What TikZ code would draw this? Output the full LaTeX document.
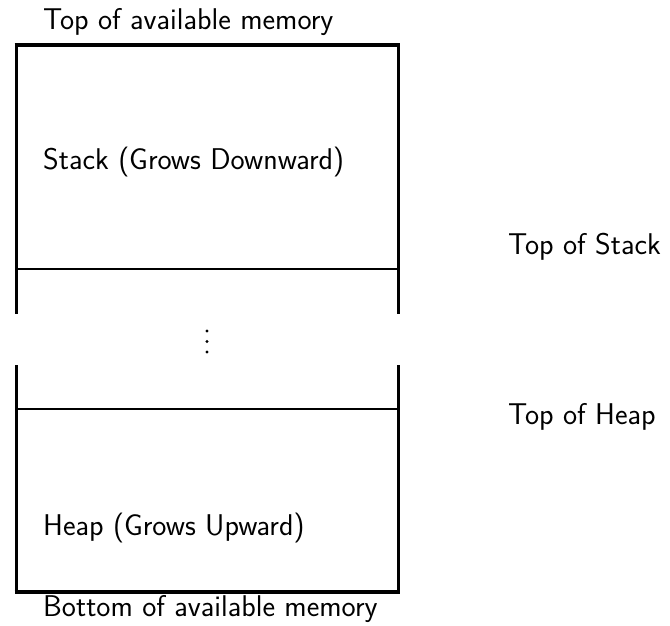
\documentclass[tikz,border=0pt]{standalone}
\usepackage{tikz}
\usetikzlibrary{calc,positioning}

\tikzset{
  lbl/.style={anchor=base west,inner sep=0pt,font=\fontsize{30}{36}\selectfont\sffamily},
  wall/.style={line width=3pt},
  divider/.style={line width=2.8pt},
  lid/.style={line width=4pt}
}

\begin{document}
\begin{tikzpicture}[x=1pt,y=-1pt]
		\useasboundingbox (0,0) rectangle (670,625);
		\begin{scope}
			% corners of the memory column
			\coordinate (tl) at (16,45);
			\coordinate (tr) at (398,45);
			\coordinate (sl) at (16,269);
			\coordinate (sr) at (398,269);
			\coordinate (gl1) at (16,314);
			\coordinate (gr1) at (398,314);
			\coordinate (gl2) at (16,365);
			\coordinate (gr2) at (398,365);
			\coordinate (hl) at (16,409);
			\coordinate (hr) at (398,409);
			\coordinate (bl) at (16,592);
			\coordinate (br) at (398,592);

			\draw[wall] (tl) -- (gl1) (tr) -- (gr1);
			\draw[wall] (gl2) -- (bl) (gr2) -- (br);
			\draw[lid] ($(tl)+(-1.5,0)$) -- ($(tr)+(1.5,0)$);
			\draw[lid] ($(bl)+(-1.5,0)$) -- ($(br)+(1.5,0)$);
			\draw[divider] (sl) -- (sr);
			\draw[divider] (hl) -- (hr);

			\foreach \y in {331,341.5,352}
				\fill (207,\y) circle (1.6);

			\node(topmem) [lbl] at (43,29) {Top of available memory};
			\node(stack) [lbl] at (43,169) {Stack (Grows Downward)};
			\node(heap) [lbl] at (43,535) {Heap (Grows Upward)};
			\node(botmem) [lbl] at (43,616) {Bottom of available memory};
			\node(topstack) [lbl] at (508,254) {Top of Stack};
			\node(topheap) [lbl] at (508,424) {Top of Heap};
		\end{scope}
	\end{tikzpicture}
\end{document}
